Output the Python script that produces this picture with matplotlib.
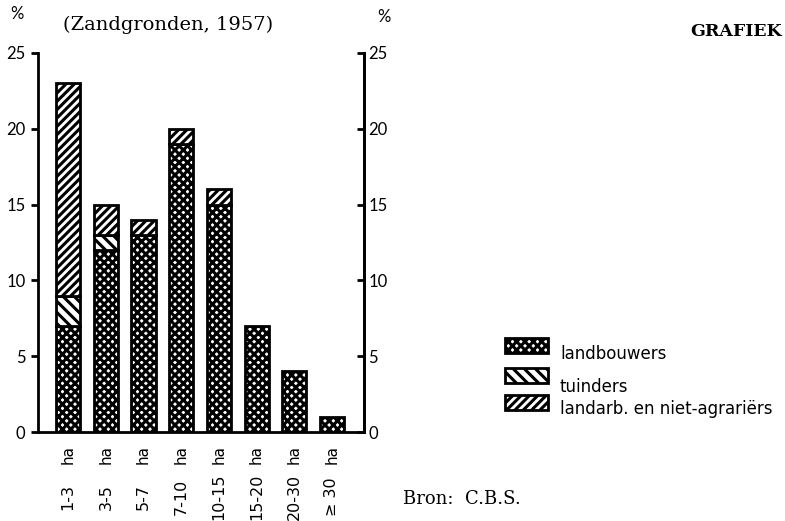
import numpy as np
import matplotlib.pyplot as plt
from matplotlib.transforms import blended_transform_factory

# data (percent of holdings, Zandgronden 1957)
klassen = ['1-3', '3-5', '5-7', '7-10', '10-15', '15-20', '20-30', '\u2265 30']
landbouwers = [7, 12, 13, 19, 15, 7, 4, 1]
tuinders = [2, 1, 0, 0, 0, 0, 0, 0]
landarb = [14, 2, 1, 1, 1, 0, 0, 0]
series_labels = ['landbouwers', 'tuinders', 'landarb. en niet-agrariërs']
y_ticks = [0, 5, 10, 15, 20, 25]

plt.rcParams['hatch.linewidth'] = 2.2
sans = ['Lato', 'DejaVu Sans']
wide = ['DejaVu Sans']
serif = ['DejaVu Serif']

fig = plt.figure(figsize=(7.85, 5.21), dpi=100)
ax = fig.add_axes([0.0484, 0.1708, 0.4153, 0.7275])

x = np.arange(len(klassen))
w = 0.64
b1 = np.array(landbouwers)
b2 = b1 + np.array(tuinders)
hatches = ['xxxx', '\\\\\\', '////']
bars = []
bars.append(ax.bar(x, landbouwers, w, color='white', edgecolor='black', hatch=hatches[0], linewidth=2))
bars.append(ax.bar(x, tuinders, w, bottom=b1, color='white', edgecolor='black', hatch=hatches[1], linewidth=2))
bars.append(ax.bar(x, landarb, w, bottom=b2, color='white', edgecolor='black', hatch=hatches[2], linewidth=2))
# hide empty segments
for cont, vals in zip(bars[1:], [tuinders, landarb]):
    for p, v in zip(cont.patches, vals):
        if v == 0:
            p.set_visible(False)

ax.set_xlim(-0.8, 7.85)
ax.set_ylim(0, 25)
ax.spines['top'].set_visible(False)
for s in ['left', 'right', 'bottom']:
    ax.spines[s].set_linewidth(2)
ax.set_yticks(y_ticks)
ax.set_yticklabels([str(t) for t in y_ticks], family=sans, fontsize=12)
ax.tick_params(axis='y', direction='out', length=5, width=2, pad=4)

ax.set_xticks(x)
ax.set_xticklabels(['ha'] * len(klassen), rotation=90, family=wide, fontsize=11, va='top')
ax.tick_params(axis='x', length=0, pad=9)
trans = blended_transform_factory(ax.transData, fig.transFigure)
for xi, k in zip(x, klassen):
    ax.text(xi, 1 - 497 / 521, k, rotation=90, ha='center', va='center',
            family=wide, fontsize=11.5, transform=trans)

ax2 = ax.twinx()
ax2.set_ylim(0, 25)
ax2.set_yticks(y_ticks)
ax2.set_yticklabels([str(t) for t in y_ticks], family=sans, fontsize=12)
ax2.tick_params(axis='y', direction='in', length=5, width=2, pad=3)
for s in ['top', 'left', 'bottom']:
    ax2.spines[s].set_visible(False)
ax2.spines['right'].set_linewidth(2)

# texts
fig.text(17 / 785, 1 - 14 / 521, '%', family=sans, fontsize=12, ha='center', va='center')
fig.text(384 / 785, 1 - 17 / 521, '%', family=sans, fontsize=12, ha='center', va='center')
fig.text(63 / 785, 1 - 25 / 521, '(Zandgronden, 1957)', family=serif, fontsize=14, ha='left', va='center')
fig.text(690 / 785, 1 - 32 / 521, 'GRAFIEK', family=serif, fontsize=12.5, weight='bold', ha='left', va='center')
fig.text(403 / 785, 1 - 499 / 521, 'Bron:  C.B.S.', family=serif, fontsize=13, ha='left', va='center')

# legend
patch_y = [345, 375, 402]
text_y = [354, 387, 409]
for h, py, ty, lab in zip(hatches, patch_y, text_y, series_labels):
    r = plt.Rectangle((505 / 785, 1 - (py + 7.5) / 521), 43 / 785, 15 / 521, transform=fig.transFigure,
                      facecolor='white', edgecolor='black', hatch=h, linewidth=2)
    fig.patches.append(r)
    fig.text(560 / 785, 1 - ty / 521, lab, family=wide, fontsize=12, ha='left', va='center')

plt.savefig('out.png', dpi=100)
